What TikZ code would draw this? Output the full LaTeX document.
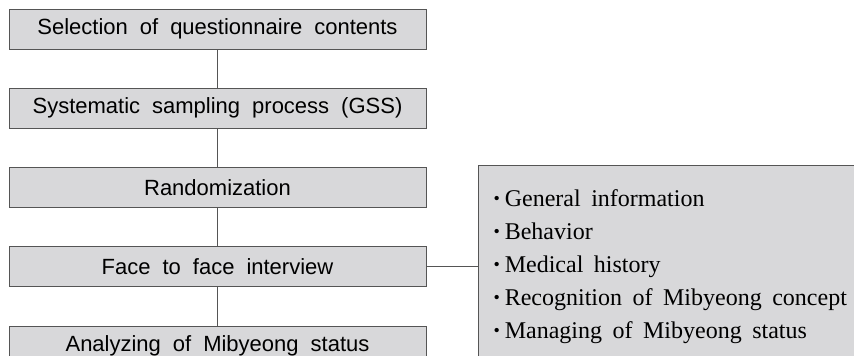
\documentclass[tikz,border=0pt]{standalone}
\usepackage{fontspec}
\setmainfont{Liberation Serif}
\setsansfont{Liberation Sans}
\usetikzlibrary{positioning}

\definecolor{boxgray}{RGB}{216,216,218}
\definecolor{edgegray}{RGB}{85,85,85}

\begin{document}
\begin{tikzpicture}[
        x=1pt, y=-1pt,
        stepbox/.style={
            rectangle,
            draw=edgegray,
            fill=boxgray,
            line width=1pt,
            minimum width=417pt,
            minimum height=40pt,
            inner sep=0pt,
            font=\sffamily\fontsize{22}{26}\selectfont,
            execute at begin node={\spaceskip=12pt plus 2pt\relax}
        },
        listbox/.style={
            rectangle,
            draw=edgegray,
            fill=boxgray,
            line width=1pt,
            anchor=north west,
            minimum height=203pt,
            text width=390pt,
            inner xsep=15pt,
            inner ysep=0pt,
            align=left,
            font=\fontsize{24}{33}\selectfont,
            execute at begin node={\spaceskip=10.5pt plus 2pt\relax}
        },
        link/.style={
            draw=edgegray,
            line width=1pt
        },
        node distance=38.25pt
    ]

    \useasboundingbox (0,0) rectangle (854,356);
    \clip (0,0) rectangle (854,356);

    % Flow of the survey
    \node[stepbox] (selection) at (217.5,29) {Selection of questionnaire contents};
    \node[stepbox, below=of selection] (sampling) {Systematic sampling process (GSS)};
    \node[stepbox, below=of sampling] (random) {Randomization};
    \node[stepbox, below=of random] (interview) {Face to face interview};
    \node[stepbox, below=of interview] (analysis) {Analyzing of Mibyeong status};

    % Questionnaire items
    \newcommand{\itm}{\raisebox{2.5pt}{\fontsize{18}{18}\selectfont\textbullet}\hspace{5pt}}
    \node[listbox] (items) at (478,165) {
        \itm General information\\
        \itm Behavior\\
        \itm Medical history\\
        \itm Recognition of Mibyeong concept\\
        \itm Managing of Mibyeong status
    };

    % Connections
    \draw[link] (selection) -- (sampling);
    \draw[link] (sampling) -- (random);
    \draw[link] (random) -- (interview);
    \draw[link] (interview) -- (analysis);
    \draw[link] (interview.east) -- (interview.east -| items.west);

\end{tikzpicture}
\end{document}
